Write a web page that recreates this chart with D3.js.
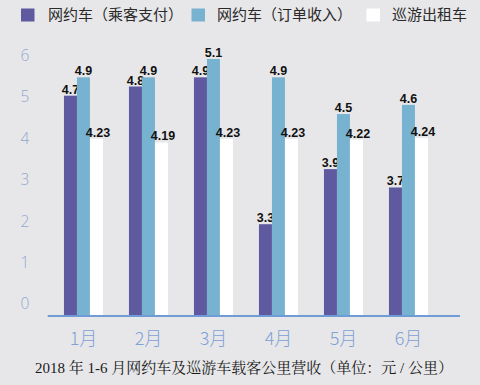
<!DOCTYPE html>
<html><head><meta charset="utf-8">
<script src="https://cdn.jsdelivr.net/npm/d3@7"></script>
<style>
html,body{margin:0;padding:0;background:#e7e7e9;}
svg{display:block;}
</style></head>
<body>
<svg id="chart" width="480" height="385"></svg>
<script>
const months = ["1月","2月","3月","4月","5月","6月"];
const seriesNames = ["网约车（乘客支付）","网约车（订单收入）","巡游出租车"];
const passengerPay = [4.7, 4.8, 4.9, 3.3, 3.9, 3.7];
const orderIncome = [4.9, 4.9, 5.1, 4.9, 4.5, 4.6];
const taxi = [4.23, 4.19, 4.23, 4.23, 4.22, 4.24];
const valueLabels = [
  ["4.7","4.8","4.9","3.3","3.9","3.7"],
  ["4.9","4.9","5.1","4.9","4.5","4.6"],
  ["4.23","4.19","4.23","4.23","4.22","4.24"]
];
const yTickLabels = [0,1,2,3,4,5,6];
const caption = "2018 年 1-6 月网约车及巡游车载客公里营收（单位：元 / 公里）";
const colors = ["#5f599f","#78b2d1","#ffffff"];

const seriesValues = [passengerPay, orderIncome, taxi];
const svg = d3.select("#chart");
svg.append("rect").attr("width",480).attr("height",385).attr("fill","#e7e7e9");

const x = d3.scaleBand().domain(months).range([47.7, 444.2]).paddingInner(0.4).paddingOuter(0.25);
const xs = d3.scaleBand().domain(d3.range(3)).range([0, x.bandwidth()]);
const y = d3.scaleLinear().domain([2.3, 5.3]).range([316, 40.6]);
const yLab = d3.scaleLinear().domain([0, 6]).range([303.3, 55]);

// y labels
const ya = svg.append("g").attr("transform","translate(25,0)")
  .call(d3.axisLeft(yLab).tickValues(yTickLabels).tickSize(0).tickFormat(d3.format("d")));
ya.select(".domain").remove();
ya.selectAll("text").attr("x",0).attr("text-anchor","middle").attr("dy","0.36em")
  .attr("fill","#91a9cf").attr("font-size","15.5px")
  .attr("font-family","'Open Sans','Liberation Sans',sans-serif").attr("font-weight",300);

// bars
const groups = svg.append("g").selectAll("g").data(months).join("g")
  .attr("transform", d => `translate(${x(d)},0)`);
groups.each(function(m, i){
  const g = d3.select(this);
  for (let s = 0; s < 3; s++) {
    const v = seriesValues[s][i];
    g.append("rect").attr("x", xs(s)).attr("width", xs.bandwidth())
      .attr("y", y(v)).attr("height", y.range()[0] - y(v)).attr("fill", colors[s]);
    g.append("text").attr("x", xs(s) + xs.bandwidth()/2 + (s===2?1.5:0)).attr("y", y(v) - 2)
      .attr("text-anchor","middle").attr("font-size","12.5px").attr("font-weight","bold")
      .attr("font-family","'Liberation Sans',Arial,sans-serif").attr("fill","#111")
      .text(valueLabels[s][i]);
  }
});

// baseline
svg.append("line").attr("x1",47.7).attr("x2",460).attr("y1",316).attr("y2",316)
  .attr("stroke","#6f9cd6").attr("stroke-width",2);

// x labels
const xa = svg.append("g").attr("transform","translate(0,316)")
  .call(d3.axisBottom(x).tickSize(0));
xa.select(".domain").remove();
xa.selectAll("text").attr("y",23).attr("dy","0.35em")
  .attr("fill","#7ea1d6").attr("font-size","18px")
  .attr("font-family","'Noto Sans CJK SC',sans-serif").attr("font-weight",300);

// legend
const legX = [21, 191.5, 366.5];
const legTX = [48, 217, 392];
seriesNames.forEach((n, i) => {
  svg.append("rect").attr("x", legX[i]).attr("y", 8.5).attr("width", 13.5).attr("height", 13)
    .attr("fill", colors[i]);
  svg.append("text").attr("x", legTX[i]).attr("y", 15).attr("dy","0.35em")
    .attr("font-size","15px").attr("font-family","'Noto Sans CJK SC',sans-serif")
    .attr("fill","#2a2a2a").text(n);
});

// caption
svg.append("text").attr("x", 244).attr("y", 368).attr("dy","0.35em").attr("text-anchor","middle")
  .attr("font-size","15px").attr("font-family","'Liberation Serif','Noto Serif CJK SC','Noto Sans CJK SC',serif")
  .attr("fill","#1a1a1a").text(caption);
</script>
</body></html>
